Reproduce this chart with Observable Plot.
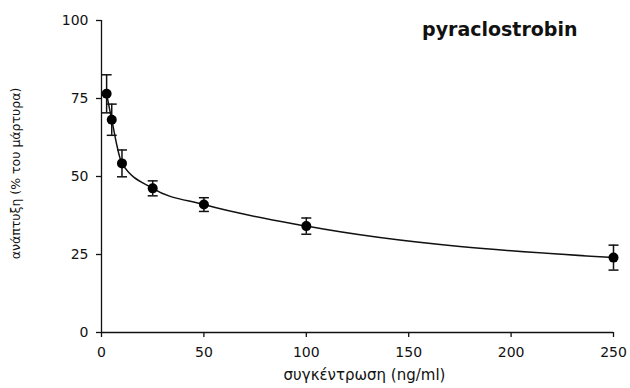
<!DOCTYPE html>
<html>
<head>
<meta charset="utf-8">
<script src="https://cdn.jsdelivr.net/npm/d3@7"></script>
<script src="https://cdn.jsdelivr.net/npm/@observablehq/plot@0.6"></script>
<style>
  html, body { margin: 0; padding: 0; background: #fff; }
  svg { display: block; }
</style>
</head>
<body>
<div id="chart"></div>
<script>
// Concentration (ng/ml), mean growth (% of control) and error (± SD)
const concentration = [2.5, 5, 10, 25, 50, 100, 250];
const growth = [76.5, 68.2, 54.2, 46.2, 41.0, 34.1, 24.0];
const errorSD = [6.1, 5.0, 4.3, 2.4, 2.2, 2.6, 4.0];

const xTicks = [0, 50, 100, 150, 200, 250];
const yTicks = [0, 25, 50, 75, 100];

const title = "pyraclostrobin";
const xLabel = "συγκέντρωση (ng/ml)";
const yLabel = "ανάπτυξη (% του μάρτυρα)";

const data = concentration.map((c, i) => ({
  c,
  g: growth[i],
  lo: growth[i] - errorSD[i],
  hi: growth[i] + errorSD[i]
}));

// Horizontal dash used as the error-bar cap
const capSymbol = {
  draw(ctx, size) {
    const w = Math.sqrt(size / Math.PI);
    ctx.moveTo(-w, 0);
    ctx.lineTo(w, 0);
  }
};

const ink = "#111";

const chart = Plot.plot({
  width: 630,
  height: 388,
  marginLeft: 101,
  marginRight: 17,
  marginTop: 20,
  marginBottom: 56,
  style: { fontFamily: "DejaVu Sans", fontSize: "14px", color: ink, background: "#fff" },
  x: { domain: [0, 250], label: null },
  y: { domain: [0, 100], label: null },
  marks: [
    Plot.axisX({ ticks: xTicks, tickSize: 5, tickPadding: 10, label: null, stroke: ink, strokeWidth: 1.3 }),
    Plot.axisY({ ticks: yTicks, tickSize: 5, tickPadding: 8, label: null, stroke: ink, strokeWidth: 1.3 }),
    Plot.ruleX([0], { stroke: ink, strokeWidth: 1.3 }),
    Plot.ruleY([0], { stroke: ink, strokeWidth: 1.3 }),
    Plot.line(data, { x: "c", y: "g", curve: "monotone-x", stroke: ink, strokeWidth: 1.5 }),
    Plot.ruleX(data, { x: "c", y1: "lo", y2: "hi", stroke: ink, strokeWidth: 1.5 }),
    Plot.dot(data, { x: "c", y: "hi", symbol: capSymbol, r: 5, stroke: ink, fill: "none", strokeWidth: 1.5 }),
    Plot.dot(data, { x: "c", y: "lo", symbol: capSymbol, r: 5, stroke: ink, fill: "none", strokeWidth: 1.5 }),
    Plot.dot(data, { x: "c", y: "g", r: 5, fill: "#000", stroke: "none" }),
    Plot.text([title], {
      frameAnchor: "top-right", dx: -36, dy: 2, lineAnchor: "top",
      fontSize: 19, fontWeight: "bold", fill: ink, textAnchor: "end"
    }),
    Plot.text([xLabel], {
      frameAnchor: "bottom", dx: 7, dy: 37, lineAnchor: "top",
      fontSize: 15, fill: ink
    }),
    Plot.text([yLabel], {
      frameAnchor: "left", dx: -86, dy: -3, rotate: -90, lineAnchor: "middle",
      textAnchor: "middle", fontSize: 12.5, fill: ink
    })
  ]
});

document.getElementById("chart").appendChild(chart);
</script>
</body>
</html>
